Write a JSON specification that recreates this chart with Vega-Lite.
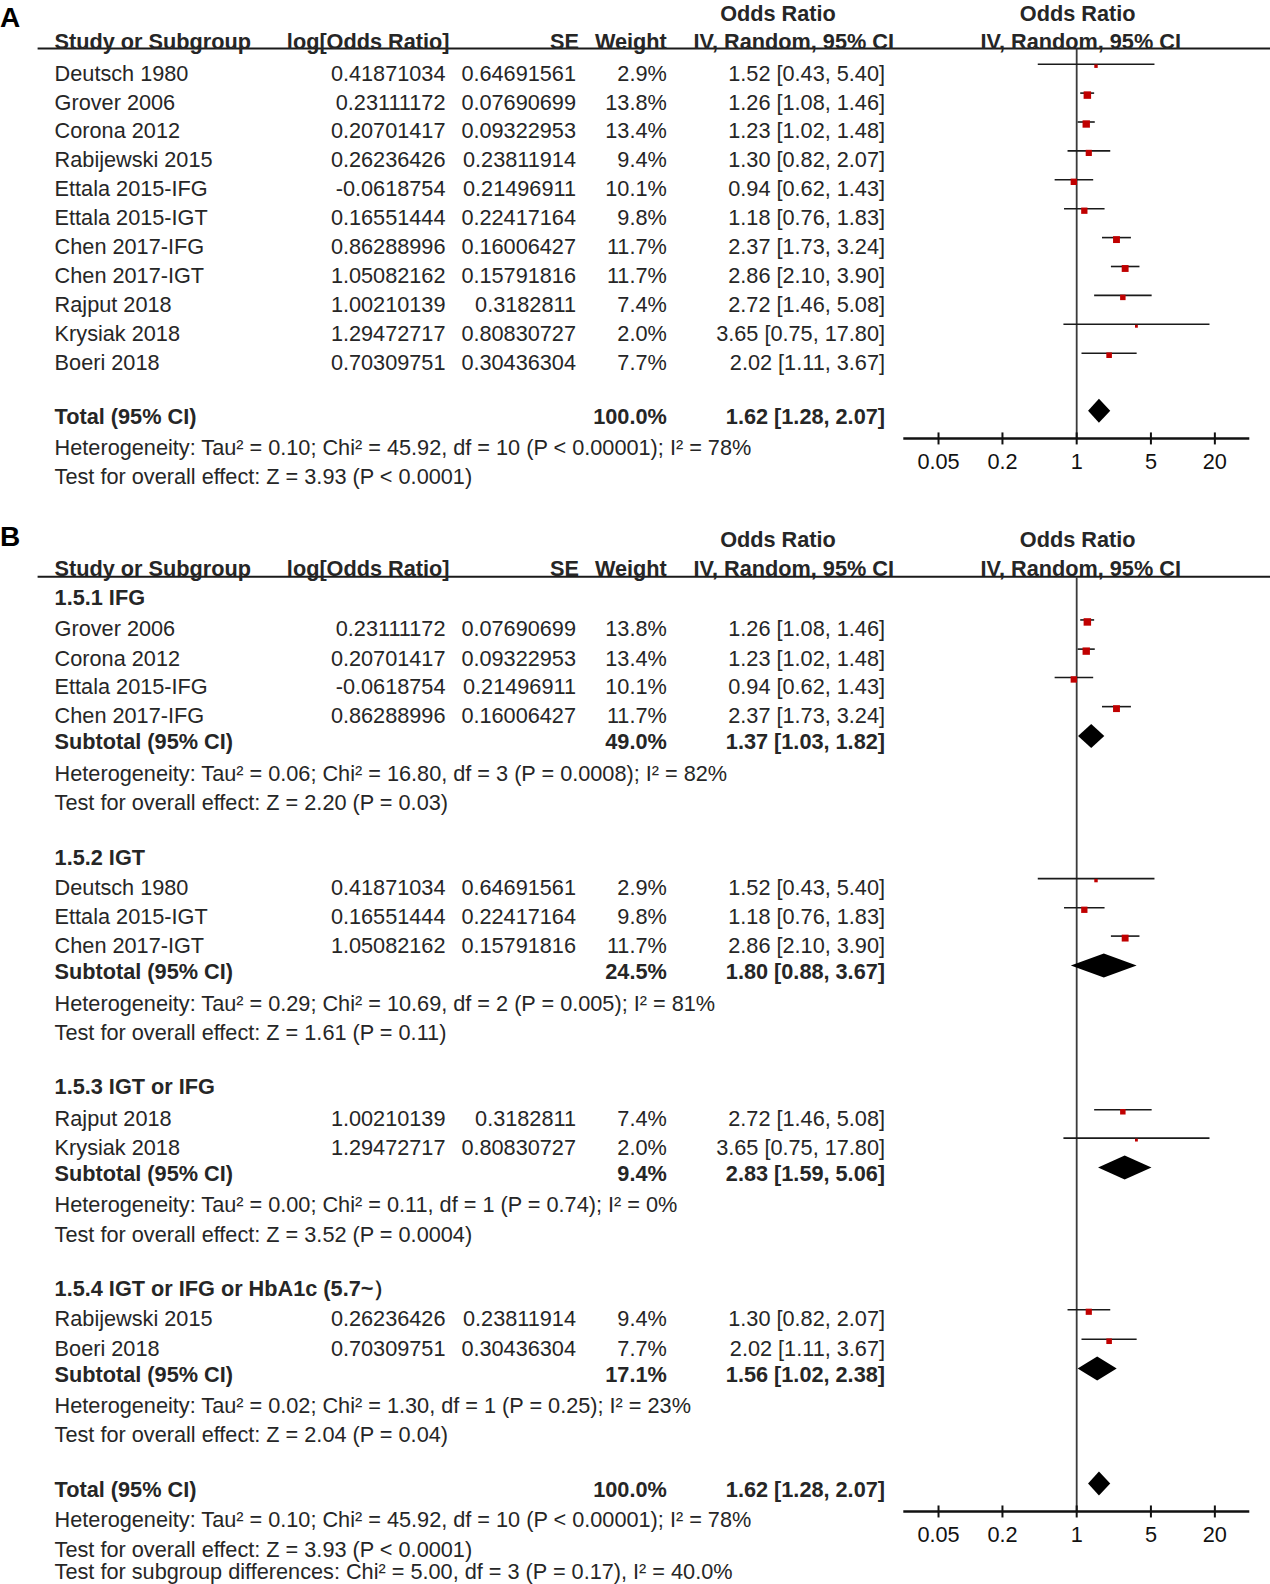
{
  "$schema": "https://vega.github.io/schema/vega-lite/v6.json",
  "width": 1270,
  "height": 1584,
  "autosize": "none",
  "padding": 0,
  "background": "#ffffff",
  "config": {
    "view": {"stroke": null},
    "axis": {"disable": true, "grid": false, "domain": false, "ticks": false, "labels": false},
    "text": {"font": "Liberation Sans", "fontSize": 21.7, "color": "#262626", "baseline": "middle", "dy": 2}
  },
  "datasets": {
    "panels": [
      {"panel": "A", "label": 0.11, "top": -0.06, "cols": 0.92, "rule": 1.2, "axis": 14.69, "ticks": [0.05, 0.2, 1, 5, 20]},
      {"panel": "B", "label": 18.05, "top": 18.15, "cols": 19.13, "rule": 19.48, "axis": 51.82, "ticks": [0.05, 0.2, 1, 5, 20]}
    ],
    "rows": [
      {"panel": "A", "row": 2, "label": "Deutsch 1980", "kind": "study", "logor": 0.41871034, "se": 0.64691561, "w": 0.029, "ci": "1.52 [0.43, 5.40]", "or": 1.52, "lo": 0.43, "hi": 5.4},
      {"panel": "A", "row": 3, "label": "Grover 2006", "kind": "study", "logor": 0.23111172, "se": 0.07690699, "w": 0.138, "ci": "1.26 [1.08, 1.46]", "or": 1.26, "lo": 1.08, "hi": 1.46},
      {"panel": "A", "row": 4, "label": "Corona 2012", "kind": "study", "logor": 0.20701417, "se": 0.09322953, "w": 0.134, "ci": "1.23 [1.02, 1.48]", "or": 1.23, "lo": 1.02, "hi": 1.48},
      {"panel": "A", "row": 5, "label": "Rabijewski 2015", "kind": "study", "logor": 0.26236426, "se": 0.23811914, "w": 0.094, "ci": "1.30 [0.82, 2.07]", "or": 1.3, "lo": 0.82, "hi": 2.07},
      {"panel": "A", "row": 6, "label": "Ettala 2015-IFG", "kind": "study", "logor": -0.0618754, "se": 0.21496911, "w": 0.101, "ci": "0.94 [0.62, 1.43]", "or": 0.94, "lo": 0.62, "hi": 1.43},
      {"panel": "A", "row": 7, "label": "Ettala 2015-IGT", "kind": "study", "logor": 0.16551444, "se": 0.22417164, "w": 0.098, "ci": "1.18 [0.76, 1.83]", "or": 1.18, "lo": 0.76, "hi": 1.83},
      {"panel": "A", "row": 8, "label": "Chen 2017-IFG", "kind": "study", "logor": 0.86288996, "se": 0.16006427, "w": 0.117, "ci": "2.37 [1.73, 3.24]", "or": 2.37, "lo": 1.73, "hi": 3.24},
      {"panel": "A", "row": 9, "label": "Chen 2017-IGT", "kind": "study", "logor": 1.05082162, "se": 0.15791816, "w": 0.117, "ci": "2.86 [2.10, 3.90]", "or": 2.86, "lo": 2.1, "hi": 3.9},
      {"panel": "A", "row": 10, "label": "Rajput 2018", "kind": "study", "logor": 1.00210139, "se": 0.3182811, "w": 0.074, "ci": "2.72 [1.46, 5.08]", "or": 2.72, "lo": 1.46, "hi": 5.08},
      {"panel": "A", "row": 11, "label": "Krysiak 2018", "kind": "study", "logor": 1.29472717, "se": 0.80830727, "w": 0.02, "ci": "3.65 [0.75, 17.80]", "or": 3.65, "lo": 0.75, "hi": 17.8},
      {"panel": "A", "row": 12, "label": "Boeri 2018", "kind": "study", "logor": 0.70309751, "se": 0.30436304, "w": 0.077, "ci": "2.02 [1.11, 3.67]", "or": 2.02, "lo": 1.11, "hi": 3.67},
      {"panel": "A", "row": 13.89, "label": "Total (95% CI)", "kind": "total", "w": 1, "ci": "1.62 [1.28, 2.07]", "or": 1.62, "lo": 1.28, "hi": 2.07},
      {"panel": "A", "row": 14.94, "label": "Heterogeneity: Tau² = 0.10; Chi² = 45.92, df = 10 (P < 0.00001); I² = 78%", "kind": "note"},
      {"panel": "A", "row": 15.95, "label": "Test for overall effect: Z = 3.93 (P < 0.0001)", "kind": "note"},

      {"panel": "B", "row": 20.14, "label": "1.5.1 IFG", "kind": "heading"},
      {"panel": "B", "row": 21.23, "label": "Grover 2006", "kind": "study", "logor": 0.23111172, "se": 0.07690699, "w": 0.138, "ci": "1.26 [1.08, 1.46]", "or": 1.26, "lo": 1.08, "hi": 1.46},
      {"panel": "B", "row": 22.24, "label": "Corona 2012", "kind": "study", "logor": 0.20701417, "se": 0.09322953, "w": 0.134, "ci": "1.23 [1.02, 1.48]", "or": 1.23, "lo": 1.02, "hi": 1.48},
      {"panel": "B", "row": 23.22, "label": "Ettala 2015-IFG", "kind": "study", "logor": -0.0618754, "se": 0.21496911, "w": 0.101, "ci": "0.94 [0.62, 1.43]", "or": 0.94, "lo": 0.62, "hi": 1.43},
      {"panel": "B", "row": 24.23, "label": "Chen 2017-IFG", "kind": "study", "logor": 0.86288996, "se": 0.16006427, "w": 0.117, "ci": "2.37 [1.73, 3.24]", "or": 2.37, "lo": 1.73, "hi": 3.24},
      {"panel": "B", "row": 25.14, "label": "Subtotal (95% CI)", "kind": "subtotal", "w": 0.49, "ci": "1.37 [1.03, 1.82]", "or": 1.37, "lo": 1.03, "hi": 1.82},
      {"panel": "B", "row": 26.23, "label": "Heterogeneity: Tau² = 0.06; Chi² = 16.80, df = 3 (P = 0.0008); I² = 82%", "kind": "note"},
      {"panel": "B", "row": 27.24, "label": "Test for overall effect: Z = 2.20 (P = 0.03)", "kind": "note"},

      {"panel": "B", "row": 29.13, "label": "1.5.2 IGT", "kind": "heading"},
      {"panel": "B", "row": 30.18, "label": "Deutsch 1980", "kind": "study", "logor": 0.41871034, "se": 0.64691561, "w": 0.029, "ci": "1.52 [0.43, 5.40]", "or": 1.52, "lo": 0.43, "hi": 5.4},
      {"panel": "B", "row": 31.19, "label": "Ettala 2015-IGT", "kind": "study", "logor": 0.16551444, "se": 0.22417164, "w": 0.098, "ci": "1.18 [0.76, 1.83]", "or": 1.18, "lo": 0.76, "hi": 1.83},
      {"panel": "B", "row": 32.17, "label": "Chen 2017-IGT", "kind": "study", "logor": 1.05082162, "se": 0.15791816, "w": 0.117, "ci": "2.86 [2.10, 3.90]", "or": 2.86, "lo": 2.1, "hi": 3.9},
      {"panel": "B", "row": 33.08, "label": "Subtotal (95% CI)", "kind": "subtotal", "w": 0.245, "ci": "1.80 [0.88, 3.67]", "or": 1.8, "lo": 0.88, "hi": 3.67},
      {"panel": "B", "row": 34.2, "label": "Heterogeneity: Tau² = 0.29; Chi² = 10.69, df = 2 (P = 0.005); I² = 81%", "kind": "note"},
      {"panel": "B", "row": 35.18, "label": "Test for overall effect: Z = 1.61 (P = 0.11)", "kind": "note"},

      {"panel": "B", "row": 37.07, "label": "1.5.3 IGT or IFG", "kind": "heading"},
      {"panel": "B", "row": 38.18, "label": "Rajput 2018", "kind": "study", "logor": 1.00210139, "se": 0.3182811, "w": 0.074, "ci": "2.72 [1.46, 5.08]", "or": 2.72, "lo": 1.46, "hi": 5.08},
      {"panel": "B", "row": 39.16, "label": "Krysiak 2018", "kind": "study", "logor": 1.29472717, "se": 0.80830727, "w": 0.02, "ci": "3.65 [0.75, 17.80]", "or": 3.65, "lo": 0.75, "hi": 17.8},
      {"panel": "B", "row": 40.07, "label": "Subtotal (95% CI)", "kind": "subtotal", "w": 0.094, "ci": "2.83 [1.59, 5.06]", "or": 2.83, "lo": 1.59, "hi": 5.06},
      {"panel": "B", "row": 41.16, "label": "Heterogeneity: Tau² = 0.00; Chi² = 0.11, df = 1 (P = 0.74); I² = 0%", "kind": "note"},
      {"panel": "B", "row": 42.17, "label": "Test for overall effect: Z = 3.52 (P = 0.0004)", "kind": "note"},

      {"panel": "B", "row": 44.06, "label": "1.5.4 IGT or IFG or HbA1c (5.7~）", "kind": "heading"},
      {"panel": "B", "row": 45.1, "label": "Rabijewski 2015", "kind": "study", "logor": 0.26236426, "se": 0.23811914, "w": 0.094, "ci": "1.30 [0.82, 2.07]", "or": 1.3, "lo": 0.82, "hi": 2.07},
      {"panel": "B", "row": 46.12, "label": "Boeri 2018", "kind": "study", "logor": 0.70309751, "se": 0.30436304, "w": 0.077, "ci": "2.02 [1.11, 3.67]", "or": 2.02, "lo": 1.11, "hi": 3.67},
      {"panel": "B", "row": 47.03, "label": "Subtotal (95% CI)", "kind": "subtotal", "w": 0.171, "ci": "1.56 [1.02, 2.38]", "or": 1.56, "lo": 1.02, "hi": 2.38},
      {"panel": "B", "row": 48.11, "label": "Heterogeneity: Tau² = 0.02; Chi² = 1.30, df = 1 (P = 0.25); I² = 23%", "kind": "note"},
      {"panel": "B", "row": 49.09, "label": "Test for overall effect: Z = 2.04 (P = 0.04)", "kind": "note"},

      {"panel": "B", "row": 51.01, "label": "Total (95% CI)", "kind": "total", "w": 1, "ci": "1.62 [1.28, 2.07]", "or": 1.62, "lo": 1.28, "hi": 2.07},
      {"panel": "B", "row": 52.06, "label": "Heterogeneity: Tau² = 0.10; Chi² = 45.92, df = 10 (P < 0.00001); I² = 78%", "kind": "note"},
      {"panel": "B", "row": 53.08, "label": "Test for overall effect: Z = 3.93 (P < 0.0001)", "kind": "note"},
      {"panel": "B", "row": 53.84, "label": "Test for subgroup differences: Chi² = 5.00, df = 3 (P = 0.17), I² = 40.0%", "kind": "note"}
    ]
  },
  "resolve": {"scale": {"x": "independent"}},
  "layer": [
    {
      "layer": [
        {
          "data": {"name": "panels"},
          "mark": {"type": "text", "align": "left", "fontWeight": "bold", "fontSize": 28, "color": "#000000"},
          "encoding": {
            "x": {"datum": 0, "type": "quantitative", "axis": null, "scale": {"domain": [0, 1, 2, 3, 4, 5], "range": [0, 54.6, 445.5, 576, 666.8, 885], "nice": false, "zero": false}},
            "y": {"field": "label", "type": "quantitative", "axis": null, "scale": {"domain": [-0.481, 54.33], "reverse": true, "nice": false, "zero": false}},
            "text": {"field": "panel", "type": "nominal"}
          }
        },
        {
          "data": {"name": "panels"},
          "mark": {"type": "rule", "color": "#1a1a1a", "strokeWidth": 2, "xOffset": -17},
          "encoding": {
            "x": {"datum": 1, "type": "quantitative", "axis": null, "scale": {"domain": [0, 1, 2, 3, 4, 5], "range": [0, 54.6, 445.5, 576, 666.8, 885], "nice": false, "zero": false}},
            "x2": {"value": "width"},
            "y": {"field": "rule", "type": "quantitative", "axis": null, "scale": {"domain": [-0.481, 54.33], "reverse": true, "nice": false, "zero": false}}
          }
        },
        {
          "data": {"name": "panels"},
          "mark": {"type": "text", "align": "left", "fontWeight": "bold"},
          "encoding": {
            "x": {"datum": 1, "type": "quantitative", "axis": null, "scale": {"domain": [0, 1, 2, 3, 4, 5], "range": [0, 54.6, 445.5, 576, 666.8, 885], "nice": false, "zero": false}},
            "y": {"field": "cols", "type": "quantitative", "axis": null, "scale": {"domain": [-0.481, 54.33], "reverse": true, "nice": false, "zero": false}},
            "text": {"value": "Study or Subgroup"}
          }
        },
        {
          "data": {"name": "panels"},
          "mark": {"type": "text", "align": "right", "fontWeight": "bold", "dx": 4},
          "encoding": {
            "x": {"datum": 2, "type": "quantitative", "axis": null, "scale": {"domain": [0, 1, 2, 3, 4, 5], "range": [0, 54.6, 445.5, 576, 666.8, 885], "nice": false, "zero": false}},
            "y": {"field": "cols", "type": "quantitative", "axis": null, "scale": {"domain": [-0.481, 54.33], "reverse": true, "nice": false, "zero": false}},
            "text": {"value": "log[Odds Ratio]"}
          }
        },
        {
          "data": {"name": "panels"},
          "mark": {"type": "text", "align": "right", "fontWeight": "bold", "dx": 3},
          "encoding": {
            "x": {"datum": 3, "type": "quantitative", "axis": null, "scale": {"domain": [0, 1, 2, 3, 4, 5], "range": [0, 54.6, 445.5, 576, 666.8, 885], "nice": false, "zero": false}},
            "y": {"field": "cols", "type": "quantitative", "axis": null, "scale": {"domain": [-0.481, 54.33], "reverse": true, "nice": false, "zero": false}},
            "text": {"value": "SE"}
          }
        },
        {
          "data": {"name": "panels"},
          "mark": {"type": "text", "align": "right", "fontWeight": "bold"},
          "encoding": {
            "x": {"datum": 4, "type": "quantitative", "axis": null, "scale": {"domain": [0, 1, 2, 3, 4, 5], "range": [0, 54.6, 445.5, 576, 666.8, 885], "nice": false, "zero": false}},
            "y": {"field": "cols", "type": "quantitative", "axis": null, "scale": {"domain": [-0.481, 54.33], "reverse": true, "nice": false, "zero": false}},
            "text": {"value": "Weight"}
          }
        },
        {
          "data": {"name": "panels"},
          "mark": {"type": "text", "align": "right", "fontWeight": "bold", "dx": 9},
          "encoding": {
            "x": {"datum": 5, "type": "quantitative", "axis": null, "scale": {"domain": [0, 1, 2, 3, 4, 5], "range": [0, 54.6, 445.5, 576, 666.8, 885], "nice": false, "zero": false}},
            "y": {"field": "cols", "type": "quantitative", "axis": null, "scale": {"domain": [-0.481, 54.33], "reverse": true, "nice": false, "zero": false}},
            "text": {"value": "IV, Random, 95% CI"}
          }
        },
        {
          "data": {"name": "panels"},
          "mark": {"type": "text", "align": "center", "fontWeight": "bold", "dx": -107},
          "encoding": {
            "x": {"datum": 5, "type": "quantitative", "axis": null, "scale": {"domain": [0, 1, 2, 3, 4, 5], "range": [0, 54.6, 445.5, 576, 666.8, 885], "nice": false, "zero": false}},
            "y": {"field": "top", "type": "quantitative", "axis": null, "scale": {"domain": [-0.481, 54.33], "reverse": true, "nice": false, "zero": false}},
            "text": {"value": "Odds Ratio"}
          }
        },
        {
          "data": {"name": "rows"},
          "transform": [{"filter": "datum.kind === 'study' || datum.kind === 'note'"}],
          "mark": {"type": "text", "align": "left"},
          "encoding": {
            "x": {"datum": 1, "type": "quantitative", "axis": null, "scale": {"domain": [0, 1, 2, 3, 4, 5], "range": [0, 54.6, 445.5, 576, 666.8, 885], "nice": false, "zero": false}},
            "y": {"field": "row", "type": "quantitative", "axis": null, "scale": {"domain": [-0.481, 54.33], "reverse": true, "nice": false, "zero": false}},
            "text": {"field": "label", "type": "nominal"}
          }
        },
        {
          "data": {"name": "rows"},
          "transform": [{"filter": "datum.kind === 'heading' || datum.kind === 'subtotal' || datum.kind === 'total'"}],
          "mark": {"type": "text", "align": "left", "fontWeight": "bold"},
          "encoding": {
            "x": {"datum": 1, "type": "quantitative", "axis": null, "scale": {"domain": [0, 1, 2, 3, 4, 5], "range": [0, 54.6, 445.5, 576, 666.8, 885], "nice": false, "zero": false}},
            "y": {"field": "row", "type": "quantitative", "axis": null, "scale": {"domain": [-0.481, 54.33], "reverse": true, "nice": false, "zero": false}},
            "text": {"field": "label", "type": "nominal"}
          }
        },
        {
          "data": {"name": "rows"},
          "transform": [{"filter": "datum.kind === 'study'"}],
          "mark": {"type": "text", "align": "right"},
          "encoding": {
            "x": {"datum": 2, "type": "quantitative", "axis": null, "scale": {"domain": [0, 1, 2, 3, 4, 5], "range": [0, 54.6, 445.5, 576, 666.8, 885], "nice": false, "zero": false}},
            "y": {"field": "row", "type": "quantitative", "axis": null, "scale": {"domain": [-0.481, 54.33], "reverse": true, "nice": false, "zero": false}},
            "text": {"field": "logor", "type": "nominal"}
          }
        },
        {
          "data": {"name": "rows"},
          "transform": [{"filter": "datum.kind === 'study'"}],
          "mark": {"type": "text", "align": "right"},
          "encoding": {
            "x": {"datum": 3, "type": "quantitative", "axis": null, "scale": {"domain": [0, 1, 2, 3, 4, 5], "range": [0, 54.6, 445.5, 576, 666.8, 885], "nice": false, "zero": false}},
            "y": {"field": "row", "type": "quantitative", "axis": null, "scale": {"domain": [-0.481, 54.33], "reverse": true, "nice": false, "zero": false}},
            "text": {"field": "se", "type": "nominal"}
          }
        },
        {
          "data": {"name": "rows"},
          "transform": [{"filter": "datum.kind === 'study'"}],
          "mark": {"type": "text", "align": "right"},
          "encoding": {
            "x": {"datum": 4, "type": "quantitative", "axis": null, "scale": {"domain": [0, 1, 2, 3, 4, 5], "range": [0, 54.6, 445.5, 576, 666.8, 885], "nice": false, "zero": false}},
            "y": {"field": "row", "type": "quantitative", "axis": null, "scale": {"domain": [-0.481, 54.33], "reverse": true, "nice": false, "zero": false}},
            "text": {"field": "w", "type": "quantitative", "format": ".1%"}
          }
        },
        {
          "data": {"name": "rows"},
          "transform": [{"filter": "datum.kind === 'subtotal' || datum.kind === 'total'"}],
          "mark": {"type": "text", "align": "right", "fontWeight": "bold"},
          "encoding": {
            "x": {"datum": 4, "type": "quantitative", "axis": null, "scale": {"domain": [0, 1, 2, 3, 4, 5], "range": [0, 54.6, 445.5, 576, 666.8, 885], "nice": false, "zero": false}},
            "y": {"field": "row", "type": "quantitative", "axis": null, "scale": {"domain": [-0.481, 54.33], "reverse": true, "nice": false, "zero": false}},
            "text": {"field": "w", "type": "quantitative", "format": ".1%"}
          }
        },
        {
          "data": {"name": "rows"},
          "transform": [{"filter": "datum.kind === 'study'"}],
          "mark": {"type": "text", "align": "right"},
          "encoding": {
            "x": {"datum": 5, "type": "quantitative", "axis": null, "scale": {"domain": [0, 1, 2, 3, 4, 5], "range": [0, 54.6, 445.5, 576, 666.8, 885], "nice": false, "zero": false}},
            "y": {"field": "row", "type": "quantitative", "axis": null, "scale": {"domain": [-0.481, 54.33], "reverse": true, "nice": false, "zero": false}},
            "text": {"field": "ci", "type": "nominal"}
          }
        },
        {
          "data": {"name": "rows"},
          "transform": [{"filter": "datum.kind === 'subtotal' || datum.kind === 'total'"}],
          "mark": {"type": "text", "align": "right", "fontWeight": "bold"},
          "encoding": {
            "x": {"datum": 5, "type": "quantitative", "axis": null, "scale": {"domain": [0, 1, 2, 3, 4, 5], "range": [0, 54.6, 445.5, 576, 666.8, 885], "nice": false, "zero": false}},
            "y": {"field": "row", "type": "quantitative", "axis": null, "scale": {"domain": [-0.481, 54.33], "reverse": true, "nice": false, "zero": false}},
            "text": {"field": "ci", "type": "nominal"}
          }
        }
      ]
    },
    {
      "layer": [
        {
          "data": {"name": "panels"},
          "mark": {"type": "rule", "color": "#3a3a3a", "strokeWidth": 1.8},
          "encoding": {
            "x": {"datum": 1, "type": "quantitative", "axis": null, "scale": {"type": "log", "domain": [7.272e-11, 66.11], "nice": false}},
            "y": {"field": "rule", "type": "quantitative", "axis": null, "scale": {"domain": [-0.481, 54.33], "reverse": true, "nice": false, "zero": false}},
            "y2": {"field": "axis"}
          }
        },
        {
          "data": {"name": "panels"},
          "mark": {"type": "rule", "color": "#111111", "strokeWidth": 2.5},
          "encoding": {
            "x": {"datum": 0.0233, "type": "quantitative", "axis": null, "scale": {"type": "log", "domain": [7.272e-11, 66.11], "nice": false}},
            "x2": {"datum": 42.2},
            "y": {"field": "axis", "type": "quantitative", "axis": null, "scale": {"domain": [-0.481, 54.33], "reverse": true, "nice": false, "zero": false}}
          }
        },
        {
          "data": {"name": "panels"},
          "transform": [{"flatten": ["ticks"]}],
          "mark": {"type": "rule", "color": "#111111", "strokeWidth": 2, "yOffset": -6, "y2Offset": 6},
          "encoding": {
            "x": {"field": "ticks", "type": "quantitative", "axis": null, "scale": {"type": "log", "domain": [7.272e-11, 66.11], "nice": false}},
            "y": {"field": "axis", "type": "quantitative", "axis": null, "scale": {"domain": [-0.481, 54.33], "reverse": true, "nice": false, "zero": false}},
            "y2": {"field": "axis"}
          }
        },
        {
          "data": {"name": "panels"},
          "transform": [{"flatten": ["ticks"]}],
          "mark": {"type": "text", "align": "center", "dy": 24, "color": "#111111"},
          "encoding": {
            "x": {"field": "ticks", "type": "quantitative", "axis": null, "scale": {"type": "log", "domain": [7.272e-11, 66.11], "nice": false}},
            "y": {"field": "axis", "type": "quantitative", "axis": null, "scale": {"domain": [-0.481, 54.33], "reverse": true, "nice": false, "zero": false}},
            "text": {"field": "ticks", "type": "nominal"}
          }
        },
        {
          "data": {"name": "panels"},
          "mark": {"type": "text", "align": "center", "fontWeight": "bold", "dx": 1},
          "encoding": {
            "x": {"datum": 1, "type": "quantitative", "axis": null, "scale": {"type": "log", "domain": [7.272e-11, 66.11], "nice": false}},
            "y": {"field": "top", "type": "quantitative", "axis": null, "scale": {"domain": [-0.481, 54.33], "reverse": true, "nice": false, "zero": false}},
            "text": {"value": "Odds Ratio"}
          }
        },
        {
          "data": {"name": "panels"},
          "mark": {"type": "text", "align": "center", "fontWeight": "bold", "dx": 4},
          "encoding": {
            "x": {"datum": 1, "type": "quantitative", "axis": null, "scale": {"type": "log", "domain": [7.272e-11, 66.11], "nice": false}},
            "y": {"field": "cols", "type": "quantitative", "axis": null, "scale": {"domain": [-0.481, 54.33], "reverse": true, "nice": false, "zero": false}},
            "text": {"value": "IV, Random, 95% CI"}
          }
        },
        {
          "data": {"name": "rows"},
          "transform": [{"filter": "datum.kind === 'study'"}],
          "mark": {"type": "rule", "color": "#1a1a1a", "strokeWidth": 1.6, "yOffset": -7.5},
          "encoding": {
            "x": {"field": "lo", "type": "quantitative", "axis": null, "scale": {"type": "log", "domain": [7.272e-11, 66.11], "nice": false}},
            "x2": {"field": "hi"},
            "y": {"field": "row", "type": "quantitative", "axis": null, "scale": {"domain": [-0.481, 54.33], "reverse": true, "nice": false, "zero": false}}
          }
        },
        {
          "data": {"name": "rows"},
          "transform": [{"filter": "datum.kind === 'study'"}],
          "mark": {"type": "point", "shape": "square", "filled": true, "color": "#c00000", "opacity": 1, "strokeWidth": 0, "yOffset": -5.5},
          "encoding": {
            "x": {"field": "or", "type": "quantitative", "axis": null, "scale": {"type": "log", "domain": [7.272e-11, 66.11], "nice": false}},
            "y": {"field": "row", "type": "quantitative", "axis": null, "scale": {"domain": [-0.481, 54.33], "reverse": true, "nice": false, "zero": false}},
            "size": {"field": "w", "type": "quantitative", "scale": {"domain": [0, 0.138], "range": [0, 56]}, "legend": null}
          }
        },
        {
          "data": {"name": "rows"},
          "transform": [
            {"filter": "datum.kind === 'subtotal' || datum.kind === 'total'"},
            {"fold": ["lo", "or", "hi"], "as": ["part", "val"]}
          ],
          "mark": {
            "type": "area",
            "orient": "vertical",
            "color": "#000000",
            "opacity": 1,
            "yOffset": {"expr": "datum.part === 'or' ? -16.5 : -4.5"},
            "y2Offset": {"expr": "datum.part === 'or' ? 7.5 : -4.5"}
          },
          "encoding": {
            "x": {"field": "val", "type": "quantitative", "axis": null, "scale": {"type": "log", "domain": [7.272e-11, 66.11], "nice": false}},
            "y": {"field": "row", "type": "quantitative", "stack": null, "axis": null, "scale": {"domain": [-0.481, 54.33], "reverse": true, "nice": false, "zero": false}},
            "y2": {"field": "row"},
            "detail": {"field": "row", "type": "nominal"}
          }
        }
      ]
    }
  ]
}
